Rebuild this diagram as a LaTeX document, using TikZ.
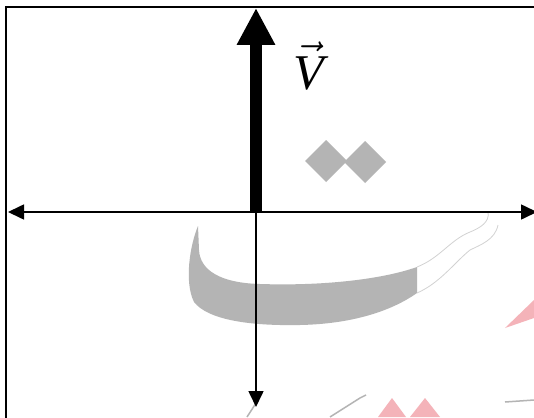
\documentclass[tikz,border=0pt]{standalone}
\usepackage{fontspec}
\setmainfont{Liberation Serif}
\usetikzlibrary{arrows.meta}
\definecolor{wmgray}{HTML}{B4B4B4}
\definecolor{wmred}{HTML}{F2A0A8}
\tikzset{
  axis/.style={line width=1.6pt,-{Triangle[length=16pt,width=15pt]}},
  axisboth/.style={line width=1.6pt,{Triangle[length=16pt,width=15pt]}-{Triangle[length=16pt,width=15pt]}},
  vecarrow/.style={line width=12pt,-{Triangle[length=37pt,width=36pt]}},
  frame/.style={line width=1.4pt},
  wm/.style={fill=wmgray,draw=none},
  wmline/.style={draw=wmgray!60,line width=0.8pt},
  wmred/.style={fill=wmred,draw=none,opacity=0.8}
}
\begin{document}
\begin{tikzpicture}[x=1pt,y=-1pt]
\useasboundingbox (0,0) rectangle (534,417);
\clip (0,0) rectangle (534,417);
\fill[white] (0,0) rectangle (534,417);
% watermark
\fill[wm] (326,140) -- (347,161) -- (326,182) -- (305,161) -- cycle;
\fill[wm] (365,141) -- (386,162) -- (365,183) -- (344,162) -- cycle;
\fill[wm] (198,226) .. controls (190,245) and (184,282) .. (194,302)
  .. controls (208,320) and (250,326) .. (300,325)
  .. controls (350,324) and (390,312) .. (417,293)
  -- (417,267)
  .. controls (380,280) and (320,286) .. (260,284)
  .. controls (220,283) and (200,270) .. (199,250) -- cycle;
\draw[wmline] (417,267) .. controls (440,258) and (450,240) .. (470,232)
  .. controls (480,228) and (490,222) .. (488,212);
\draw[wmline] (417,293) .. controls (440,283) and (455,262) .. (470,250)
  .. controls (480,245) and (495,240) .. (498,225);
\fill[wmred] (505,328) -- (534,300) -- (534,318) -- cycle;
\fill[wmred] (378,417) -- (392,398) -- (406,417) -- cycle;
\fill[wmred] (410,417) -- (425,398) -- (440,417) -- cycle;
\draw[draw=wmgray,line width=1.5pt] (247,417) -- (258,400);
\draw[draw=wmgray,line width=1.5pt] (330,417) -- (360,398) -- (366,395);
\draw[draw=wmgray,line width=1.5pt] (505,402) -- (534,400);
% frame
\draw[frame] (6,440) -- (6,7) -- (560,7);
% axes
\coordinate (O) at (256,212);
\coordinate (L) at (8,212);
\coordinate (R) at (537,212);
\coordinate (D) at (256,407);
\coordinate (U) at (256,8);
\draw[axisboth] (L) -- (R);
\draw[axis] (O) -- (D);
\draw[vecarrow] (O) -- (U);
\node[anchor=center,inner sep=0pt] (V) at (309,66) {\scalebox{5}{$\vec{\textit{V}}$}};
\end{tikzpicture}
\end{document}
